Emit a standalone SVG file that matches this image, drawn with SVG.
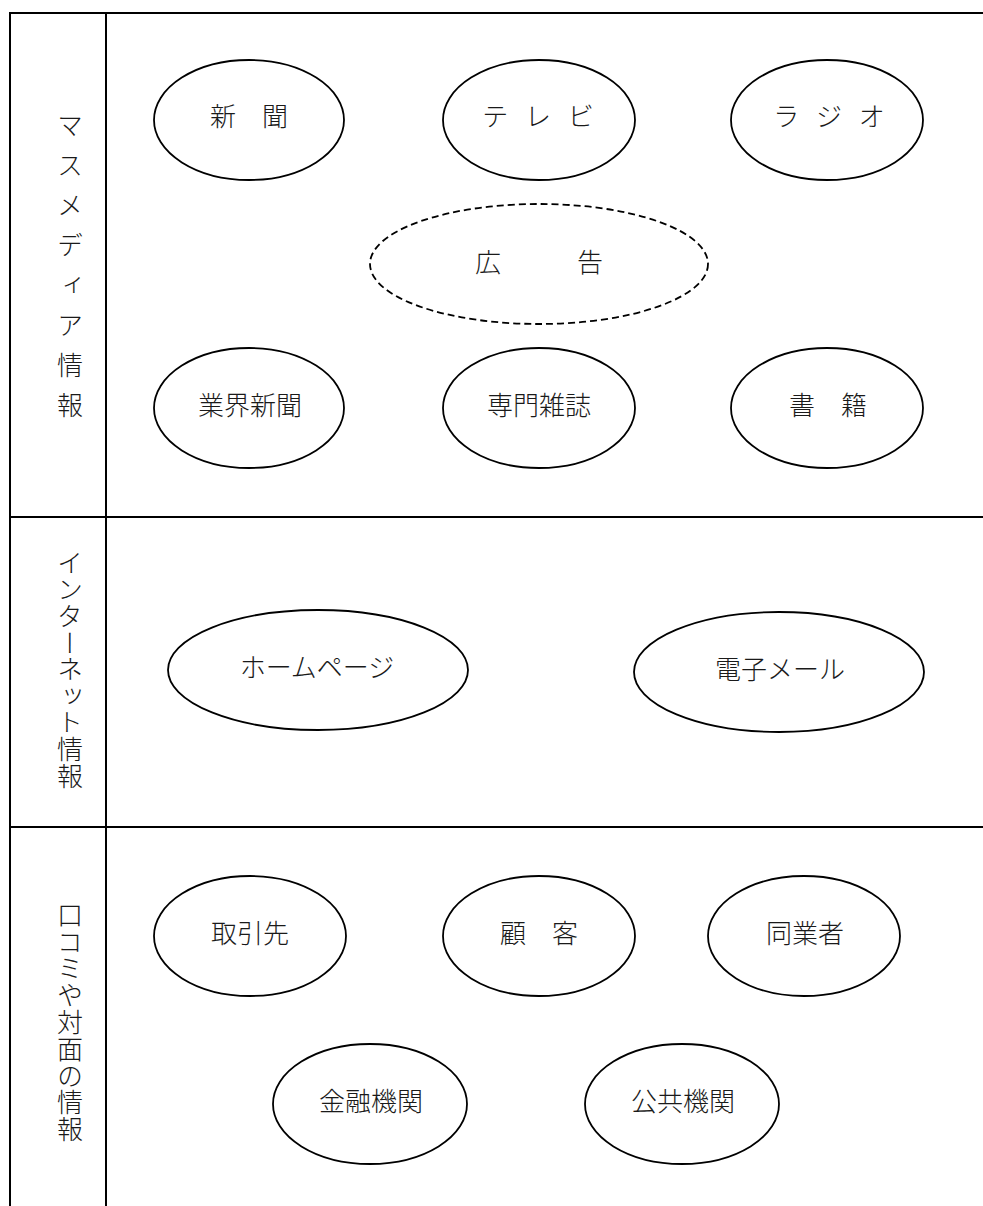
<svg xmlns="http://www.w3.org/2000/svg" width="983" height="1206" viewBox="0 0 983 1206">
<style>
.frame{stroke:#000;stroke-width:2;fill:none}
.node{fill:#fff;stroke:#000;stroke-width:1.8}
.dash{fill:#fff;stroke:#000;stroke-width:1.8;stroke-dasharray:7 4}
.t{font-family:"Noto Sans CJK JP","Noto Sans CJK SC",sans-serif;font-size:26px;font-weight:300;fill:#1a1a1a;text-anchor:middle;dominant-baseline:central}
.v{font-family:"Noto Sans CJK JP","Noto Sans CJK SC",sans-serif;font-size:26px;font-weight:300;fill:#1a1a1a;writing-mode:vertical-rl;text-anchor:start}
</style>
<rect width="983" height="1206" fill="#fff"/>
<g id="frame">
<line class="frame" x1="10" y1="13" x2="983" y2="13"/>
<line class="frame" x1="10" y1="12" x2="10" y2="1206"/>
<line class="frame" x1="106" y1="12" x2="106" y2="1206"/>
<line class="frame" x1="10" y1="517" x2="983" y2="517"/>
<line class="frame" x1="10" y1="827" x2="983" y2="827"/>
</g>
<g id="labels">
<text id="label-mass" class="v" x="70" y="112" style="letter-spacing:14px">マスメディア情報</text>
<text id="label-net" class="v" x="70" y="550" style="letter-spacing:0.6px">インターネット情報</text>
<text id="label-face" class="v" x="70" y="902" style="letter-spacing:0.8px">口コミや対面の情報</text>
</g>
<g id="connectors"></g>
<g id="n-shinbun"><ellipse class="node" cx="249" cy="120" rx="95" ry="60"/><text class="t" x="249" y="114">新　聞</text></g>
<g id="n-tv"><ellipse class="node" cx="539" cy="120" rx="96" ry="60"/><text class="t" x="538" y="114" style="word-spacing:11px">テ レ ビ</text></g>
<g id="n-radio"><ellipse class="node" cx="827" cy="120" rx="96" ry="60"/><text class="t" x="829" y="114" style="word-spacing:11px">ラ ジ オ</text></g>
<g id="n-koukoku"><ellipse class="dash" cx="539" cy="264" rx="169" ry="60"/><text class="t" x="543" y="260" style="letter-spacing:8px">広　　告</text></g>
<g id="n-gyoukai"><ellipse class="node" cx="249" cy="408" rx="95" ry="60"/><text class="t" x="250" y="403">業界新聞</text></g>
<g id="n-senmon"><ellipse class="node" cx="539" cy="408" rx="96" ry="60"/><text class="t" x="539" y="403">専門雑誌</text></g>
<g id="n-shoseki"><ellipse class="node" cx="827" cy="408" rx="96" ry="60"/><text class="t" x="828" y="403">書　籍</text></g>
<g id="n-homepage"><ellipse class="node" cx="318" cy="670" rx="150" ry="60"/><text class="t" x="317" y="665">ホームページ</text></g>
<g id="n-email"><ellipse class="node" cx="779" cy="672" rx="145" ry="60"/><text class="t" x="780" y="667">電子メール</text></g>
<g id="n-torihiki"><ellipse class="node" cx="250" cy="936" rx="96" ry="60"/><text class="t" x="250" y="931">取引先</text></g>
<g id="n-kokyaku"><ellipse class="node" cx="539" cy="936" rx="96" ry="60"/><text class="t" x="539" y="931">顧　客</text></g>
<g id="n-dougyou"><ellipse class="node" cx="804" cy="936" rx="96" ry="60"/><text class="t" x="805" y="931">同業者</text></g>
<g id="n-kinyuu"><ellipse class="node" cx="370" cy="1104" rx="97" ry="60"/><text class="t" x="371" y="1099">金融機関</text></g>
<g id="n-koukyou"><ellipse class="node" cx="682" cy="1104" rx="97" ry="60"/><text class="t" x="683" y="1099">公共機関</text></g>
</svg>
